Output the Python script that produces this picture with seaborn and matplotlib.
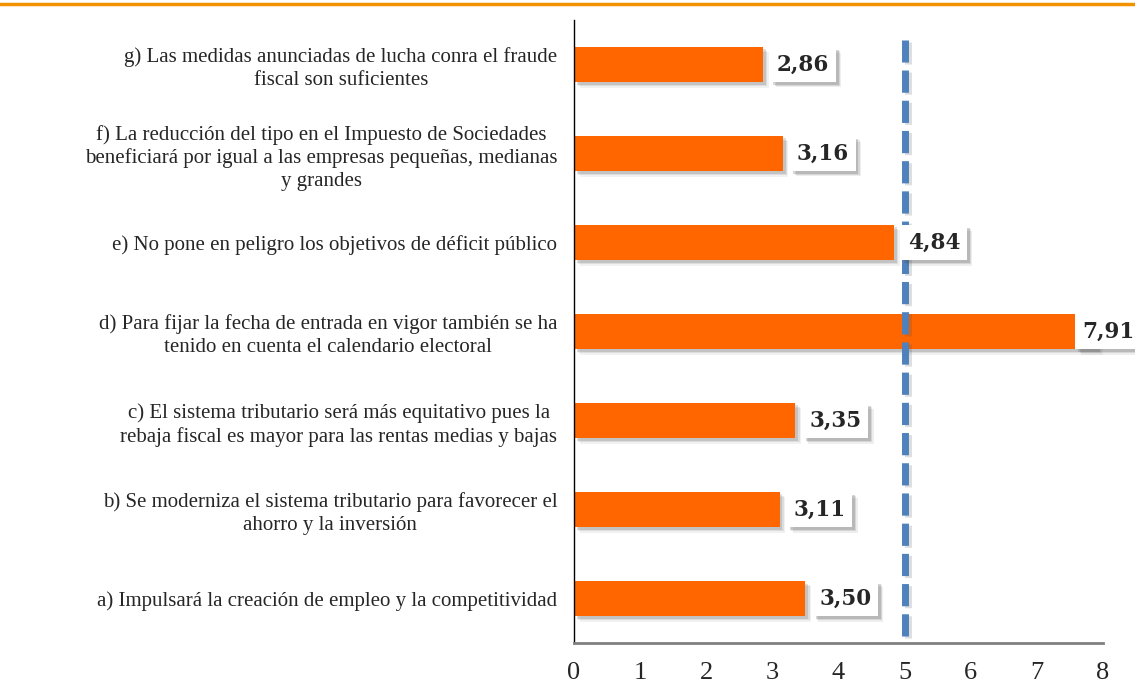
import numpy as np
import pandas as pd
import matplotlib
matplotlib.use("Agg")
import matplotlib.pyplot as plt
import matplotlib.patheffects as pe
import seaborn as sns

categories = [
    "g) Las medidas anunciadas de lucha conra el fraude\nfiscal son suficientes",
    "f) La reducción del tipo en el Impuesto de Sociedades\nbeneficiará por igual a las empresas pequeñas, medianas\ny grandes",
    "e) No pone en peligro los objetivos de déficit público",
    "d) Para fijar la fecha de entrada en vigor también se ha\ntenido en cuenta el calendario electoral",
    "c) El sistema tributario será más equitativo pues la\nrebaja fiscal es mayor para las rentas medias y bajas",
    "b) Se moderniza el sistema tributario para favorecer el\nahorro y la inversión",
    "a) Impulsará la creación de empleo y la competitividad",
]
values = [2.86, 3.16, 4.84, 7.91, 3.35, 3.11, 3.50]
value_labels = ["2,86", "3,16", "4,84", "7,91", "3,35", "3,11", "3,50"]
reference = 5
x_ticks = [0, 1, 2, 3, 4, 5, 6, 7, 8]

df = pd.DataFrame({"categoria": categories, "valor": values})

sns.set_style("white")
plt.rcParams["font.family"] = ["Liberation Serif", "DejaVu Serif"]

fig = plt.figure(figsize=(11.35, 6.84), dpi=100)
ax = fig.add_axes([0.5057, 0.0599, 0.4661, 0.9109])


def soft_shadow(k=1.0):
    # layered offsets to imitate a blurred drop shadow
    return [pe.SimplePatchShadow(offset=(4, -4), shadow_rgbFace="0.3", alpha=0.08 * k),
            pe.SimplePatchShadow(offset=(3, -3), shadow_rgbFace="0.3", alpha=0.12 * k),
            pe.SimplePatchShadow(offset=(2, -2), shadow_rgbFace="0.3", alpha=0.18 * k),
            pe.Normal()]


sns.barplot(data=df, y="categoria", x="valor", orient="h", color="#FF6600",
            saturation=1, width=0.4, ax=ax)
for bar in ax.patches:
    bar.set_edgecolor("none")
    bar.set_path_effects(soft_shadow())

# reference line: ~22 px dashes, ~8 px gaps (dash units scale with lw)
ax.axvline(reference, ymin=0.012, ymax=0.968, color="#4F81BD", lw=5,
           linestyle=(0, (3.2, 1.15)), dash_capstyle="butt", zorder=3,
           path_effects=[pe.SimpleLineShadow(offset=(2.5, -1.5), shadow_color="0.3", alpha=0.18),
                         pe.Normal()])

for i, (v, lab) in enumerate(zip(values, value_labels)):
    xt = min(v + 0.21, 7.68)
    t = ax.text(xt, i, lab, ha="left", va="center", fontsize=15.5, fontweight="bold",
                family=["DejaVu Serif"], zorder=5, clip_on=False,
                bbox=dict(boxstyle="square,pad=0.3", fc="white", ec="none"))
    t.get_bbox_patch().set_path_effects(soft_shadow(1.2))

ax.set_xlim(0, 8)
ax.set_ylim(len(categories) - 0.5, -0.5)
ax.set_xticks(x_ticks)
ax.set_xticklabels([str(x) for x in x_ticks], fontsize=19)
ax.set_yticks(range(len(categories)))
ax.set_yticklabels(categories, fontsize=15, multialignment="center", linespacing=1.25)
ax.set_yticks(np.arange(-0.5, len(categories)), minor=True)
ax.tick_params(axis="y", which="major", length=0, pad=12)
ax.tick_params(axis="y", which="minor", length=6, width=1, color="black", direction="out")
ax.tick_params(axis="x", length=6, width=1.5, color="#808080", direction="out", pad=8)
ax.set_xlabel("")
ax.set_ylabel("")

sns.despine(ax=ax, top=True, right=True)
ax.spines["left"].set_color("black")
ax.spines["left"].set_linewidth(1)
ax.spines["bottom"].set_color("#808080")
ax.spines["bottom"].set_linewidth(2)

fig.add_artist(plt.Line2D([0, 1], [0.994, 0.994], color="#F39200", lw=2.5,
                          transform=fig.transFigure))

fig.savefig("out.png", dpi=100)
